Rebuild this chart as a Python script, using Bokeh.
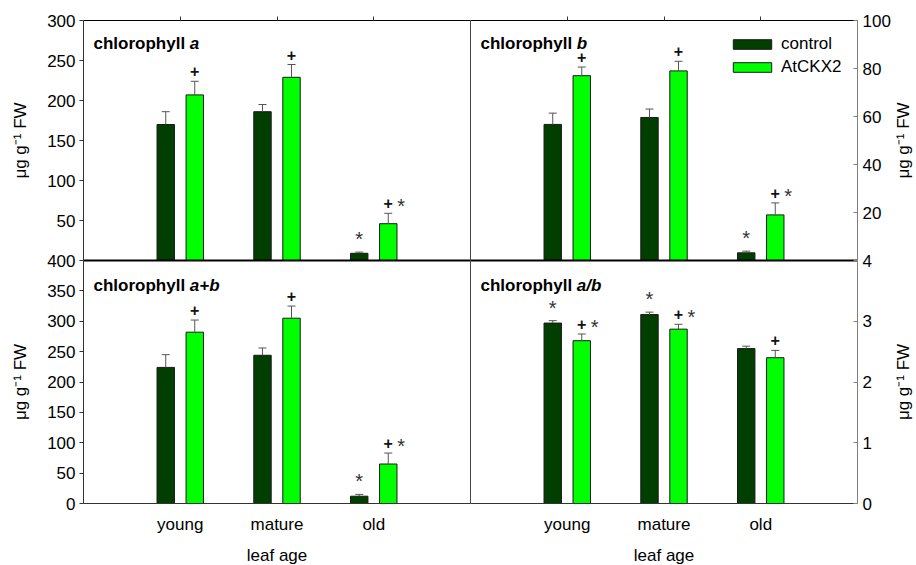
import math
from bokeh.plotting import figure
from bokeh.models import (ColumnDataSource, Range1d, LinearAxis, FixedTicker,
                          Whisker, TeeHead, Legend, LegendItem, Label, Grid)
from bokeh.transform import dodge
from bokeh.core.properties import value
from bokeh.embed import file_html
from bokeh.resources import INLINE

# ---------------- data ----------------
categories = ["young", "mature", "old"]
series_names = ["control", "AtCKX2"]

chl_a_control = [170, 186, 9]
chl_a_control_err = [16, 9, 1.5]
chl_a_atckx2 = [207, 229, 46]
chl_a_atckx2_err = [17, 16, 13]

chl_b_control = [56.7, 59.6, 3.2]
chl_b_control_err = [4.7, 3.5, 0.7]
chl_b_atckx2 = [77, 79, 19]
chl_b_atckx2_err = [3.6, 4.0, 5.0]

chl_ab_control = [224, 244, 12]
chl_ab_control_err = [21, 12, 3]
chl_ab_atckx2 = [282, 305, 65]
chl_ab_atckx2_err = [20, 20, 18]

ratio_control = [2.97, 3.11, 2.55]
ratio_control_err = [0.04, 0.04, 0.04]
ratio_atckx2 = [2.68, 2.87, 2.40]
ratio_atckx2_err = [0.11, 0.08, 0.12]

# significance marks
sig_a_control = ["", "", "*"]
sig_a_atckx2 = ["+", "+", "+"]
sig_a_atckx2_star = ["", "", "*"]
sig_b_control = ["", "", "*"]
sig_b_atckx2 = ["+", "+", "+"]
sig_b_atckx2_star = ["", "", "*"]
sig_ab_control = ["", "", "*"]
sig_ab_atckx2 = ["+", "+", "+"]
sig_ab_atckx2_star = ["", "", "*"]
sig_ratio_control = ["*", "*", ""]
sig_ratio_atckx2 = ["+", "+", "+"]
sig_ratio_atckx2_star = ["*", "*", ""]

ticks_a = [50, 100, 150, 200, 250, 300]
ticks_b = [20, 40, 60, 80, 100]
ticks_ab = [0, 50, 100, 150, 200, 250, 300, 350, 400]
ticks_ratio = [0, 1, 2, 3, 4]

y_label = "\u03bcg g\u207b\u00b9 FW"
x_label = "leaf age"

# ---------------- style / geometry ----------------
FONT = "Liberation Sans"
FS = "17px"
C_CTRL = "#003f00"
C_CKX = "#00ff00"
W, H = 916, 565
PL, PM, PR = 83, 470, 857          # panel left / middle / right edges (px)
PT, PMID, PB = 20, 260, 503        # panel top / middle / bottom edges (px)
NX = 4                              # x extent of one panel (data units)

kl = NX / (PM - PL)
kr = NX / (PR - PM)


def yrange(top_val, y_top_px, y_bot_px):
    per_px = top_val / (y_bot_px - y_top_px)
    below = H - y_bot_px
    return Range1d(-below * per_px, (H - below) * per_px)


p = figure(width=W, height=H, output_backend="svg", toolbar_location=None,
           x_axis_location=None, y_axis_location=None,
           x_range=Range1d(-PL * kl, (W - PL) * kl),
           y_range=yrange(400, PMID, PB),
           min_border_left=0, min_border_right=0,
           min_border_top=0, min_border_bottom=0)
p.extra_x_ranges = {"xr": Range1d(-PM * kr, (W - PM) * kr)}
p.extra_y_ranges = {
    "tl": yrange(300, PT, PMID),
    "tr": yrange(100, PT, PMID),
    "br": yrange(4, PMID, PB),
}
p.outline_line_color = None
p.background_fill_color = "white"
p.border_fill_color = "white"
for g in p.select(type=Grid):
    g.visible = False

panels = [
    dict(xr="default", yr="tl", top=300, ticks=ticks_a, side="left", bottom=False,
         title=("chlorophyll ", "a"), ctrl=chl_a_control, ctrl_err=chl_a_control_err,
         ckx=chl_a_atckx2, ckx_err=chl_a_atckx2_err,
         s1=sig_a_control, s2=sig_a_atckx2, s3=sig_a_atckx2_star),
    dict(xr="xr", yr="tr", top=100, ticks=ticks_b, side="right", bottom=False,
         title=("chlorophyll ", "b"), ctrl=chl_b_control, ctrl_err=chl_b_control_err,
         ckx=chl_b_atckx2, ckx_err=chl_b_atckx2_err,
         s1=sig_b_control, s2=sig_b_atckx2, s3=sig_b_atckx2_star),
    dict(xr="default", yr="default", top=400, ticks=ticks_ab, side="left", bottom=True,
         title=("chlorophyll ", "a+b"), ctrl=chl_ab_control, ctrl_err=chl_ab_control_err,
         ckx=chl_ab_atckx2, ckx_err=chl_ab_atckx2_err,
         s1=sig_ab_control, s2=sig_ab_atckx2, s3=sig_ab_atckx2_star),
    dict(xr="xr", yr="br", top=4, ticks=ticks_ratio, side="right", bottom=True,
         title=("chlorophyll ", "a/b"), ctrl=ratio_control, ctrl_err=ratio_control_err,
         ckx=ratio_atckx2, ckx_err=ratio_atckx2_err,
         s1=sig_ratio_control, s2=sig_ratio_atckx2, s3=sig_ratio_atckx2_star),
]

OFF = 0.15
BW = 0.18
legend_renderers = None


def plain_axis(**kw):
    """Axis used only as a panel border line."""
    return LinearAxis(ticker=FixedTicker(ticks=[]), major_tick_line_color=None,
                      minor_tick_line_color=None, major_label_text_color=None, **kw)


for pan in panels:
    xs = list(range(1, len(categories) + 1))
    src = ColumnDataSource(dict(
        x=xs,
        ctrl=pan["ctrl"], ckx=pan["ckx"],
        ctrl_hi=[v + e for v, e in zip(pan["ctrl"], pan["ctrl_err"])],
        ckx_hi=[v + e for v, e in zip(pan["ckx"], pan["ckx_err"])],
        s1=pan["s1"], s2=pan["s2"], s3=pan["s3"],
    ))
    rn = dict(x_range_name=pan["xr"], y_range_name=pan["yr"])
    kw = dict(source=src, **rn)
    r1 = p.vbar(x=dodge("x", -OFF), top="ctrl", width=BW, fill_color=C_CTRL,
                line_color="#1a1a1a", line_width=1, **kw)
    r2 = p.vbar(x=dodge("x", OFF), top="ckx", width=BW, fill_color=C_CKX,
                line_color="#1a1a1a", line_width=1, **kw)
    if legend_renderers is None:
        legend_renderers = (r1, r2)
    for fld, lo, hi in ((-OFF, "ctrl", "ctrl_hi"), (OFF, "ckx", "ckx_hi")):
        wk = Whisker(source=src, base=dodge("x", fld), lower=lo, upper=hi,
                     dimension="height", line_color="#555555", line_width=1,
                     lower_head=None,
                     upper_head=TeeHead(size=8, line_color="#555555", line_width=1),
                     level="glyph", **rn)
        p.add_layout(wk)
    # significance marks
    p.text(x=dodge("x", -OFF), y="ctrl_hi", text="s1", text_align="center",
           text_baseline="alphabetic", y_offset=-13, text_font=value(FONT),
           text_font_size="20px", text_color="#333333", **kw)
    p.text(x=dodge("x", OFF), y="ckx_hi", text="s2", text_align="center",
           text_baseline="alphabetic", y_offset=-10, text_font=value(FONT),
           text_font_size="16px", text_font_style="bold", text_color="#111111", **kw)
    p.text(x=dodge("x", OFF), y="ckx_hi", text="s3", text_align="center",
           text_baseline="alphabetic", x_offset=13, y_offset=-7, text_font=value(FONT),
           text_font_size="20px", text_color="#333333", **kw)

    # panel title (bold + bold italic)
    t1, t2 = pan["title"]
    yoff = -23 if not pan["bottom"] else -25
    for txt, xo, style in ((t1, 10, "bold"), (t2, 10 + 5.668 * 17, "bold italic")):
        p.add_layout(Label(x=0, y=pan["top"], x_offset=xo, y_offset=yoff, text=txt,
                           text_font=FONT, text_font_size=FS, text_font_style=style,
                           text_baseline="alphabetic", text_color="black", **rn))

    # y axis (on the outer edge of the panel)
    ax = LinearAxis(fixed_location=(0 if pan["side"] == "left" else NX),
                    bounds=(0, pan["top"]), ticker=FixedTicker(ticks=pan["ticks"]),
                    major_label_text_font=FONT, major_label_text_font_size=FS,
                    major_label_text_color="black",
                    minor_tick_line_color=None, **rn)
    if pan["side"] == "left":
        ax.axis_label = y_label
        ax.axis_label_text_font = FONT
        ax.axis_label_text_font_size = FS
        ax.axis_label_text_font_style = "normal"
        ax.axis_label_text_color = "black"
        ax.axis_line_color = "#333333"
        ax.major_tick_line_color = "#333333"
        ax.major_tick_out = 4
        ax.major_tick_in = 0
        ax.major_label_standoff = 4
        ax.axis_label_standoff = 14
    else:
        ax.axis_line_color = "#808080"
        ax.major_tick_line_color = "#808080"
        ax.major_tick_out = 0
        ax.major_tick_in = 4
        ax.major_label_standoff = 5
        # axis title reading upwards, as in the left-hand panels
        p.add_layout(Label(x=NX, y=pan["top"] / 2, x_offset=46, text=y_label,
                           angle=math.pi / 2, text_align="center",
                           text_baseline="middle", text_font=FONT,
                           text_font_size=FS, text_color="black", **rn))
        # inner (middle) border of the right-hand panels
        p.add_layout(plain_axis(fixed_location=0, bounds=(0, pan["top"]),
                                axis_line_color="#444444", **rn), "left")
    p.add_layout(ax, pan["side"])

    if not pan["bottom"]:
        # top border with small category ticks
        tax = LinearAxis(fixed_location=pan["top"], bounds=(0, NX),
                         ticker=FixedTicker(ticks=xs), axis_line_color="black",
                         major_tick_out=4, major_tick_in=0,
                         major_tick_line_color="#333333",
                         minor_tick_line_color=None,
                         major_label_text_color=None, **rn)
        p.add_layout(tax, "above")
        # thick separator between upper and lower panels
        p.add_layout(plain_axis(fixed_location=0, bounds=(0, NX),
                                axis_line_color="black", axis_line_width=2, **rn),
                     "below")
    else:
        bax = LinearAxis(fixed_location=0, bounds=(0, NX),
                         ticker=FixedTicker(ticks=xs),
                         major_label_overrides={i: c for i, c in zip(xs, categories)},
                         axis_line_color="#333333", major_tick_line_color=None,
                         minor_tick_line_color=None,
                         major_tick_out=0, major_tick_in=0,
                         major_label_standoff=11,
                         major_label_text_font=FONT, major_label_text_font_size=FS,
                         major_label_text_color="black",
                         axis_label=x_label, axis_label_text_font=FONT,
                         axis_label_text_font_size=FS,
                         axis_label_text_font_style="normal",
                         axis_label_text_color="black", axis_label_standoff=9, **rn)
        p.add_layout(bax, "below")

legend = Legend(items=[LegendItem(label=series_names[0], renderers=[legend_renderers[0]]),
                       LegendItem(label=series_names[1], renderers=[legend_renderers[1]])],
                location=(728, 488), orientation="vertical",
                glyph_width=48, glyph_height=12, label_height=14, spacing=3,
                label_standoff=5, padding=0, margin=0,
                border_line_color=None, background_fill_alpha=0,
                label_text_font=FONT, label_text_font_size=FS,
                label_text_color="black")
p.add_layout(legend)

open("out.html", "w").write(file_html(p, INLINE))
